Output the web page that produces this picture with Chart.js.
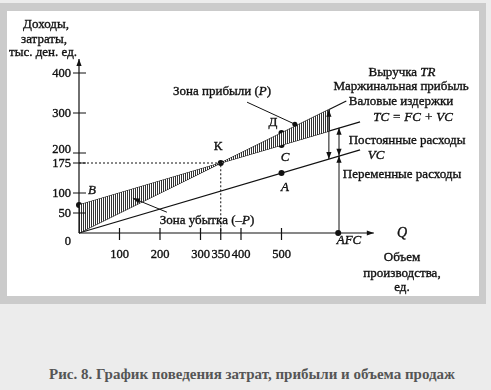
<!DOCTYPE html>
<html>
<head>
<meta charset="utf-8">
<script src="https://cdn.jsdelivr.net/npm/chart.js@4.4.0/dist/chart.umd.min.js"></script>
<style>
body { margin: 0; background: #ececec; width: 491px; height: 390px; overflow: hidden; }
#frame { position: absolute; left: 0; top: 3px; width: 472px; height: 285px; border: 7px solid #cbcbcb; border-top-width: 8px; border-bottom-width: 8px; background: #fff; }
#caption { position: absolute; left: 0; width: 504px; top: 366px; text-align: center; font: bold 15px "Liberation Serif", serif; color: #555; }
</style>
</head>
<body>
<div id="frame"><canvas id="chart" width="472" height="285"></canvas></div>
<div id="caption">Рис. 8. График поведения затрат, прибыли и объема продаж</div>
<script>
// линии графика (Q, тыс. ден. ед.)
const revenue = [{x: 0, y: 0}, {x: 350, y: 175}, {x: 660, y: 330}];      // TR
const totalCost = [{x: 0, y: 70}, {x: 350, y: 175}, {x: 694, y: 278}];   // TC
const varCost = [{x: 0, y: 0}, {x: 694, y: 208}];                        // VC
// штриховка (зоны убытка и прибыли)
const hatchTop = [{x: 0, y: 0}, {x: 350, y: 175}, {x: 620, y: 310}];
const hatchBottom = [{x: 0, y: 70}, {x: 350, y: 175}, {x: 620, y: 256}];
// пунктир к точке безубыточности
const breakEvenGuide = [{x: 0, y: 175}, {x: 350, y: 175}, {x: 350, y: 0}];
// точки B, K, Д, C, A, AFC
const markPoints = [{x: 0, y: 70}, {x: 350, y: 175}, {x: 500, y: 250}, {x: 500, y: 220}, {x: 500, y: 150}, {x: 640, y: 0}];
const xTicks = [100, 200, 300, 350, 400, 500];
const yTicks = [50, 100, 175, 200, 300, 400];
const xAxisEnd = 728;
const yAxisEnd = 435;
// размерные стрелки: Q, от, до
const marginArrow = [617, 308, 185];
const fixedArrow = [642, 263, 193];
const afcArrow = [642, 193, 0];
// выноски
const profitLeader = [[415, 327], [533, 272]];
const lossLeader = [[217, 52], [133, 87]];

const SERIF = '"Liberation Serif", "Times New Roman", serif';

function makeHatch() {
    const c = document.createElement('canvas');
    c.width = 2; c.height = 4;
    const g = c.getContext('2d');
    g.fillStyle = '#fff';
    g.fillRect(0, 0, 2, 4);
    g.fillStyle = '#333';
    g.fillRect(0, 0, 1, 4);
    return g.createPattern(c, 'repeat');
}

function arrowHead(ctx, x, y, dx, dy) {
    const len = 7, half = 2.6;
    ctx.beginPath();
    ctx.moveTo(x, y);
    ctx.lineTo(x - dx * len - dy * half, y - dy * len + dx * half);
    ctx.lineTo(x - dx * len + dy * half, y - dy * len - dx * half);
    ctx.closePath();
    ctx.fill();
}

// текст "потолще", как на скане
function inkText(ctx, s, x, y) {
    ctx.fillText(s, x, y);
    ctx.lineWidth = 0.35;
    ctx.strokeText(s, x, y);
}

function richText(ctx, parts, cx, cy, size) {
    let total = 0;
    parts.forEach(p => {
        ctx.font = (p[1] ? 'italic ' : '') + size + 'px ' + SERIF;
        total += ctx.measureText(p[0]).width;
    });
    let x = cx - total / 2;
    ctx.textAlign = 'left';
    parts.forEach(p => {
        ctx.font = (p[1] ? 'italic ' : '') + size + 'px ' + SERIF;
        inkText(ctx, p[0], x, cy);
        x += ctx.measureText(p[0]).width;
    });
}

const decor = {
    id: 'decor',
    afterDatasetsDraw(chart) {
        const ctx = chart.ctx;
        const sx = chart.scales.x, sy = chart.scales.y;
        const px = v => sx.getPixelForValue(v);
        const py = v => sy.getPixelForValue(v);
        const ox = px(0), oy = py(0);

        ctx.save();
        ctx.fillStyle = '#111';
        ctx.strokeStyle = '#111';
        ctx.lineWidth = 1.2;

        // оси
        ctx.beginPath();
        ctx.moveTo(ox, oy); ctx.lineTo(px(xAxisEnd), oy);
        ctx.moveTo(ox, oy); ctx.lineTo(ox, py(yAxisEnd));
        ctx.stroke();
        arrowHead(ctx, px(xAxisEnd), oy, 1, 0);
        arrowHead(ctx, ox, py(yAxisEnd), 0, -1);

        // деления
        ctx.beginPath();
        xTicks.forEach(v => { ctx.moveTo(px(v), oy - 5); ctx.lineTo(px(v), oy + 7); });
        yTicks.forEach(v => { ctx.moveTo(ox - 6, py(v)); ctx.lineTo(ox + 7, py(v)); });
        ctx.stroke();

        // подписи делений
        ctx.font = '12.5px ' + SERIF;
        ctx.textBaseline = 'middle';
        ctx.textAlign = 'center';
        xTicks.forEach(v => inkText(ctx, String(v), px(v), oy + 22));
        ctx.textAlign = 'right';
        yTicks.forEach(v => inkText(ctx, String(v), ox - 8, py(v) + (v === 200 ? -3 : 1)));
        inkText(ctx, '0', ox - 8, oy + 9);

        // размерные стрелки
        ctx.lineWidth = 1;
        [marginArrow, fixedArrow].forEach(a => {
            ctx.beginPath();
            ctx.moveTo(px(a[0]), py(a[1]));
            ctx.lineTo(px(a[0]), py(a[2]));
            ctx.stroke();
            arrowHead(ctx, px(a[0]), py(a[1]), 0, -1);
            arrowHead(ctx, px(a[0]), py(a[2]), 0, 1);
        });
        ctx.beginPath();
        ctx.moveTo(px(afcArrow[0]), py(afcArrow[1]));
        ctx.lineTo(px(afcArrow[0]), py(afcArrow[2]));
        ctx.stroke();
        arrowHead(ctx, px(afcArrow[0]), py(afcArrow[1]), 0, -1);

        // выноски
        ctx.beginPath();
        ctx.moveTo(px(profitLeader[0][0]), py(profitLeader[0][1]));
        ctx.lineTo(px(profitLeader[1][0]), py(profitLeader[1][1]));
        ctx.stroke();
        ctx.beginPath();
        ctx.arc(px(profitLeader[1][0]), py(profitLeader[1][1]), 2.5, 0, Math.PI * 2);
        ctx.fill();
        const l0x = px(lossLeader[0][0]), l0y = py(lossLeader[0][1]);
        const l1x = px(lossLeader[1][0]), l1y = py(lossLeader[1][1]);
        ctx.beginPath();
        ctx.moveTo(l0x, l0y); ctx.lineTo(l1x, l1y);
        ctx.stroke();
        const d = Math.hypot(l1x - l0x, l1y - l0y);
        arrowHead(ctx, l1x, l1y, (l1x - l0x) / d, (l1y - l0y) / d);

        // надписи
        ctx.textBaseline = 'middle';
        richText(ctx, [['Доходы,', false]], 39, 14, 13);
        richText(ctx, [['затраты,', false]], 37, 29, 13);
        richText(ctx, [['тыс. ден. ед.', false]], 36, 42, 13);
        richText(ctx, [['К', false]], 211, 136, 13);
        richText(ctx, [['Д', false]], 266, 112, 13);
        richText(ctx, [['Зона прибыли (', false], ['P', true], [')', false]], 215, 81, 13);
        richText(ctx, [['Зона убытка (–', false], ['P', true], [')', false]], 200, 210, 13);
        richText(ctx, [['Выручка ', false], ['TR', true]], 395, 62, 13);
        richText(ctx, [['Маржинальная прибыль', false]], 394, 76, 13);
        richText(ctx, [['Валовые издержки', false]], 394, 91, 13);
        richText(ctx, [['TC = FC + VC', true]], 406, 107, 13);
        richText(ctx, [['Постоянные расходы', false]], 400, 130, 13);
        richText(ctx, [['VC', true]], 369, 145, 13);
        richText(ctx, [['Переменные расходы', false]], 395, 164, 13);
        richText(ctx, [['B', true]], 85, 180, 13);
        richText(ctx, [['C', true]], 278, 147, 13);
        richText(ctx, [['A', true]], 278, 177, 13);
        richText(ctx, [['AFC', true]], 342, 230, 13);
        richText(ctx, [['Q', true]], 395, 222, 14);
        richText(ctx, [['Объем', false]], 395, 247, 13);
        richText(ctx, [['производства,', false]], 395, 263, 13);
        richText(ctx, [['ед.', false]], 395, 277, 13);
        ctx.restore();
    }
};

const line = (data, extra) => Object.assign({
    type: 'line',
    data: data,
    borderColor: '#111',
    borderWidth: 1.2,
    pointRadius: 0,
    fill: false,
    tension: 0,
    clip: false
}, extra || {});

new Chart(document.getElementById('chart').getContext('2d'), {
    type: 'line',
    data: {
        datasets: [
            line(hatchTop, { borderWidth: 0, fill: '+1', backgroundColor: makeHatch() }),
            line(hatchBottom, { borderWidth: 0 }),
            line(revenue),
            line(totalCost),
            line(varCost),
            line(breakEvenGuide, { borderWidth: 1, borderDash: [2, 2] }),
            {
                type: 'scatter',
                data: markPoints,
                pointRadius: 3,
                pointBackgroundColor: '#111',
                pointBorderWidth: 0,
                clip: false
            }
        ]
    },
    options: {
        responsive: false,
        animation: false,
        events: [],
        layout: { padding: { left: 72, right: 76, top: 42, bottom: 63 } },
        scales: {
            x: { type: 'linear', min: 0, max: 800, display: false },
            y: { type: 'linear', min: 0, max: 450, display: false }
        },
        plugins: {
            legend: { display: false },
            tooltip: { enabled: false }
        }
    },
    plugins: [decor]
});
</script>
</body>
</html>
